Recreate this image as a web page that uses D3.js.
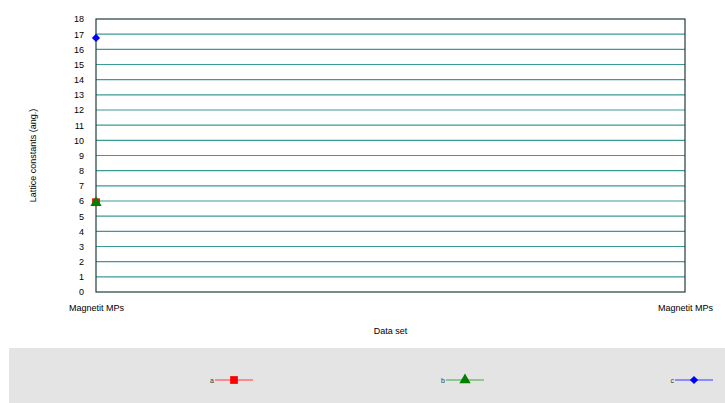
<!DOCTYPE html>
<html>
<head>
<meta charset="utf-8">
<script src="https://cdn.jsdelivr.net/npm/d3@7"></script>
<style>
  html, body { margin: 0; padding: 0; background: #fff; }
  svg { display: block; font-family: "Liberation Sans", Arial, sans-serif; }
</style>
</head>
<body>
<svg id="chart" width="725" height="403"></svg>
<script>
// Category labels along the x axis
const categories = ["Magnetit MPs", "Magnetit MPs"];
// Series names and their values (one point each, at the first category)
const seriesNames = ["a", "b", "c"];
const seriesA = [5.92];
const seriesB = [5.88];
const seriesC = [16.75];
const yTicks = d3.range(0, 19);

const svg = d3.select("#chart");
const margin = { left: 96, right: 40, top: 19, bottom: 111 };
const W = 725, H = 403;
const plotW = W - margin.left - margin.right;
const plotH = H - margin.top - margin.bottom;

const x = d3.scalePoint().domain(categories.map((d, i) => i)).range([0, plotW]);
const y = d3.scaleLinear().domain([0, 18]).range([plotH, 0]);

const g = svg.append("g").attr("transform", `translate(${margin.left},${margin.top})`);

// Horizontal gridlines
g.append("g")
  .selectAll("line")
  .data(yTicks.filter(t => t > 0 && t < 18))
  .join("line")
  .attr("x1", 0).attr("x2", plotW)
  .attr("y1", d => y(d)).attr("y2", d => y(d))
  .attr("stroke", "#3a9a98").attr("stroke-width", 1.2);

// Plot frame
g.append("rect")
  .attr("x", 0).attr("y", 0).attr("width", plotW).attr("height", plotH)
  .attr("fill", "none").attr("stroke", "#1e3c3c").attr("stroke-width", 1.2);

// Y axis labels
const yAxis = d3.axisLeft(y).tickValues(yTicks).tickSize(0).tickPadding(12);
const ya = g.append("g").call(yAxis);
ya.select(".domain").remove();
ya.selectAll("text").attr("font-size", 9).attr("fill", "#000")
  .attr("font-family", "Liberation Sans, Arial, sans-serif");

// X axis labels
const xAxis = d3.axisBottom(x).tickFormat(i => categories[i]).tickSize(0).tickPadding(13);
const xa = g.append("g").attr("transform", `translate(0,${plotH})`).call(xAxis);
xa.select(".domain").remove();
xa.selectAll("text").attr("font-size", 9).attr("fill", "#000")
  .attr("font-family", "Liberation Sans, Arial, sans-serif");

// Axis titles
svg.append("text")
  .attr("x", margin.left + plotW / 2).attr("y", 334)
  .attr("text-anchor", "middle").attr("font-size", 9).text("Data set");
svg.append("text")
  .attr("transform", `translate(36,${margin.top + plotH / 2}) rotate(-90)`)
  .attr("text-anchor", "middle").attr("font-size", 9).text("Lattice constants (ang.)");

// Marker shapes: square, triangle, and a square turned 45° for the diamond
const sym = {
  a: d3.symbol().type(d3.symbolSquare).size(60),
  b: d3.symbol().type(d3.symbolTriangle).size(55),
  c: d3.symbol().type(d3.symbolSquare).size(34)
};
const rot = { a: 0, b: 0, c: 45 };
const colors = { a: "#ff0000", b: "#008000", c: "#0000ff" };
const lineColors = { a: "#ff7070", b: "#70c070", c: "#7070ff" };
const data = { a: seriesA, b: seriesB, c: seriesC };

// Data markers
seriesNames.forEach(s => {
  g.append("g").selectAll("path")
    .data(data[s])
    .join("path")
    .attr("d", sym[s])
    .attr("transform", (d, i) => `translate(${x(i)},${y(d)}) rotate(${rot[s]})`)
    .attr("fill", colors[s]);
});

// Legend panel
const legendY = 348;
svg.append("rect")
  .attr("x", 9).attr("y", legendY).attr("width", W - 9).attr("height", H - legendY)
  .attr("fill", "#e4e4e4");

const legendX = d3.scaleOrdinal().domain(seriesNames).range([215, 446, 675]);
const ly = 380;
seriesNames.forEach(s => {
  const lx = legendX(s);
  const lg = svg.append("g");
  lg.append("text").attr("x", lx - 1).attr("y", ly + 3)
    .attr("text-anchor", "end").attr("font-size", 7).attr("fill", "#333").text(s);
  lg.append("line").attr("x1", lx).attr("x2", lx + 38)
    .attr("y1", ly).attr("y2", ly).attr("stroke", lineColors[s]).attr("stroke-width", 1.5);
  lg.append("path").attr("d", sym[s]).attr("transform", `translate(${lx + 19},${ly}) rotate(${rot[s]})`)
    .attr("fill", colors[s]);
});
</script>
</body>
</html>
